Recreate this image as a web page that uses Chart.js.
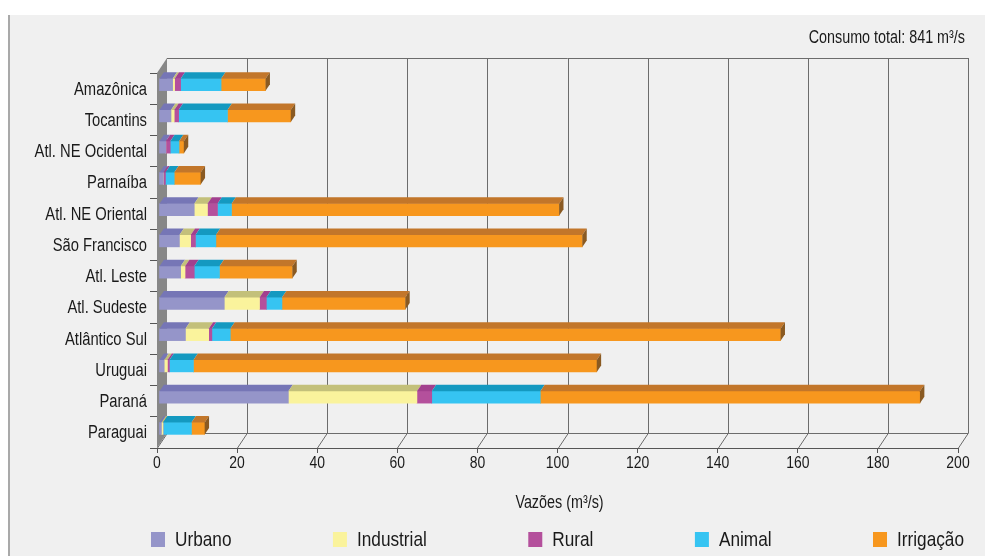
<!DOCTYPE html>
<html>
<head>
<meta charset="utf-8">
<script src="https://cdn.jsdelivr.net/npm/chart.js@4.4.0/dist/chart.umd.min.js"></script>
<style>
  html, body { margin: 0; padding: 0; background: #fff; }
  #wrap { width: 985px; height: 556px; }
</style>
</head>
<body>
<div id="wrap"><canvas id="chart" width="985" height="556"></canvas></div>
<script>
// Consumo de água por região hidrográfica (m³/s)
const categories = [
  'Amazônica', 'Tocantins', 'Atl. NE Ocidental', 'Parnaíba', 'Atl. NE Oriental',
  'São Francisco', 'Atl. Leste', 'Atl. Sudeste', 'Atlântico Sul', 'Uruguai',
  'Paraná', 'Paraguai',
]
const urbano = [3.4, 3.0, 1.7, 1.1, 8.8, 5.1, 5.4, 16.3, 6.6, 1.3, 32.3, 0.6]
const industrial = [0.5, 0.8, 0, 0, 3.3, 2.8, 1.1, 8.8, 5.8, 0.8, 32.1, 0.4]
const rural = [1.5, 1.1, 1.1, 0.5, 2.5, 1.2, 2.3, 1.7, 0.8, 0.5, 3.7, 0]
const animal = [10.1, 12.2, 2.2, 2.2, 3.5, 5.1, 6.3, 3.9, 4.6, 6.0, 27.1, 7.1]
const irrigacao = [11.1, 15.8, 1.2, 6.6, 81.8, 91.5, 18.2, 30.8, 137.4, 100.7, 94.8, 3.3]
const seriesNames = ['Urbano', 'Industrial', 'Rural', 'Animal', 'Irrigação']
const xTicks = [0, 20, 40, 60, 80, 100, 120, 140, 160, 180, 200]
const totalLabel = 'Consumo total: 841 m³/s'
const axisTitle = 'Vazões (m³/s)'

const frontColors = ['#9595c9', '#faf39c', '#b4509c', '#36c4f2', '#f7971e']
const topColors = ['#7676b6', '#c3c07a', '#a2408e', '#1499c0', '#c2762a']
const endColor = '#8a5a22'
const textColor = '#1a1a1a'

// no narrow face installed: squeeze the regular one horizontally
const FONT = "'Liberation Sans', Arial, sans-serif"
const NARROW = 0.82

// box depth (walls) and bar depth
const WALL_DX = 10
const WALL_DY = 15
const BAR_DX = 4.4
const BAR_DY = 6.5
const BAR_SHIFT_X = 2
const BAR_SHIFT_Y = -4

function narrowText(ctx, text, x, y, size, align) {
  ctx.save()
  ctx.font = `${size}px ${FONT}`
  ctx.textAlign = align
  ctx.textBaseline = 'middle'
  ctx.fillStyle = textColor
  ctx.translate(x, y)
  ctx.scale(NARROW, 1)
  ctx.fillText(text, 0, 0)
  ctx.restore()
}

function narrowWidth(ctx, text, size) {
  ctx.save()
  ctx.font = `${size}px ${FONT}`
  const w = ctx.measureText(text).width * NARROW
  ctx.restore()
  return w
}

const box3d = {
  id: 'box3d',
  beforeDraw(chart) {
    const { ctx, chartArea: a, scales: { x } } = chart
    const w = chart.width
    const h = chart.height
    ctx.save()
    ctx.fillStyle = '#ffffff'
    ctx.fillRect(0, 0, w, h)
    ctx.fillStyle = '#f0f0f0'
    ctx.fillRect(8, 15, w - 8, h - 15)
    ctx.fillStyle = '#a9a9a9'
    ctx.fillRect(8, 15, 2, h - 15)

    ctx.strokeStyle = '#6c6c6c'
    ctx.lineWidth = 1
    ctx.beginPath()
    ctx.moveTo(a.left + WALL_DX, Math.round(a.top - WALL_DY) + 0.5)
    ctx.lineTo(a.right + WALL_DX, Math.round(a.top - WALL_DY) + 0.5)
    ctx.moveTo(a.left + WALL_DX, Math.round(a.bottom - WALL_DY) + 0.5)
    ctx.lineTo(a.right + WALL_DX, Math.round(a.bottom - WALL_DY) + 0.5)
    x.ticks.forEach((t) => {
      const px = Math.round(x.getPixelForValue(t.value)) + 0.5
      if (t.value > 0) {
        ctx.moveTo(px + WALL_DX, a.top - WALL_DY)
        ctx.lineTo(px + WALL_DX, a.bottom - WALL_DY)
      }
      ctx.moveTo(px, a.bottom)
      ctx.lineTo(px + WALL_DX, a.bottom - WALL_DY)
    })
    ctx.stroke()

    // left side wall
    ctx.fillStyle = '#878787'
    ctx.beginPath()
    ctx.moveTo(a.left, a.top)
    ctx.lineTo(a.left + WALL_DX, a.top - WALL_DY)
    ctx.lineTo(a.left + WALL_DX, a.bottom - WALL_DY)
    ctx.lineTo(a.left, a.bottom)
    ctx.closePath()
    ctx.fill()
    ctx.restore()
  },
  beforeDatasetsDraw(chart) {
    chart.ctx.save()
    chart.ctx.translate(BAR_SHIFT_X, BAR_SHIFT_Y)
  },
  afterDatasetsDraw(chart) {
    const { ctx, data } = chart
    categories.forEach((c, j) => {
      let last = -1
      data.datasets.forEach((ds, i) => {
        if (ds.data[j] > 0) last = i
      })
      data.datasets.forEach((ds, i) => {
        if (!(ds.data[j] > 0)) return
        const el = chart.getDatasetMeta(i).data[j]
        const { x, y, base, height } = el.getProps(['x', 'y', 'base', 'height'], true)
        const left = Math.min(x, base)
        const right = Math.max(x, base)
        const top = y - height / 2
        const bottom = y + height / 2
        ctx.fillStyle = topColors[i]
        ctx.beginPath()
        ctx.moveTo(left, top)
        ctx.lineTo(right, top)
        ctx.lineTo(right + BAR_DX, top - BAR_DY)
        ctx.lineTo(left + BAR_DX, top - BAR_DY)
        ctx.closePath()
        ctx.fill()
        if (i === last) {
          ctx.fillStyle = endColor
          ctx.beginPath()
          ctx.moveTo(right, top)
          ctx.lineTo(right + BAR_DX, top - BAR_DY)
          ctx.lineTo(right + BAR_DX, bottom - BAR_DY)
          ctx.lineTo(right, bottom)
          ctx.closePath()
          ctx.fill()
        }
      })
    })
    ctx.restore()
  },
  afterDraw(chart) {
    const { ctx, data, chartArea: a, scales: { x, y } } = chart

    // axis labels
    y.ticks.forEach((t, i) => {
      narrowText(ctx, y.getLabelForValue(t.value), a.left - 10, y.getPixelForTick(i) + 1, 18, 'right')
    })
    x.ticks.forEach((t) => {
      narrowText(ctx, String(t.value), x.getPixelForValue(t.value), a.bottom + 15, 17, 'center')
    })
    narrowText(ctx, axisTitle, (a.left + a.right) / 2 + 2, 503, 17.5, 'center')
    narrowText(ctx, totalLabel, 965, 38, 17.5, 'right')

    // legend, spread between the first box and the right edge
    const widths = data.datasets.map((ds) => 24 + narrowWidth(ctx, ds.label, 21))
    const startX = 151
    const endX = 964
    const gap = (endX - startX - widths.reduce((s, v) => s + v, 0)) / (widths.length - 1)
    let lx = startX
    data.datasets.forEach((ds, i) => {
      ctx.fillStyle = frontColors[i]
      ctx.fillRect(lx, 532, 14, 15)
      narrowText(ctx, ds.label, lx + 24, 540, 21, 'left')
      lx += widths[i] + gap
    })
  },
}

const seriesValues = [urbano, industrial, rural, animal, irrigacao]

new Chart(document.getElementById('chart').getContext('2d'), {
  type: 'bar',
  data: {
    labels: categories,
    datasets: seriesNames.map((name, i) => ({
      label: name,
      data: seriesValues[i],
      backgroundColor: frontColors[i],
      borderWidth: 0,
      barThickness: 12,
      clip: false,
    })),
  },
  options: {
    indexAxis: 'y',
    responsive: false,
    animation: false,
    layout: { padding: { left: 0, top: 73, right: 27, bottom: 0 } },
    plugins: {
      legend: { display: false },
      tooltip: { enabled: false },
    },
    scales: {
      x: {
        stacked: true,
        min: 0,
        max: 200,
        afterBuildTicks(scale) {
          scale.ticks = xTicks.map((v) => ({ value: v }))
        },
        afterFit(scale) {
          scale.height = 108
        },
        grid: { drawOnChartArea: false, drawTicks: true, tickLength: 5, color: '#555' },
        border: { display: true, color: '#555' },
        ticks: { display: false },
      },
      y: {
        stacked: true,
        afterFit(scale) {
          scale.width = 157
        },
        grid: { drawOnChartArea: false, drawTicks: true, tickLength: 7, color: '#555', offset: true },
        border: { display: false },
        ticks: { display: false },
      },
    },
  },
  plugins: [box3d],
})
</script>
</body>
</html>
